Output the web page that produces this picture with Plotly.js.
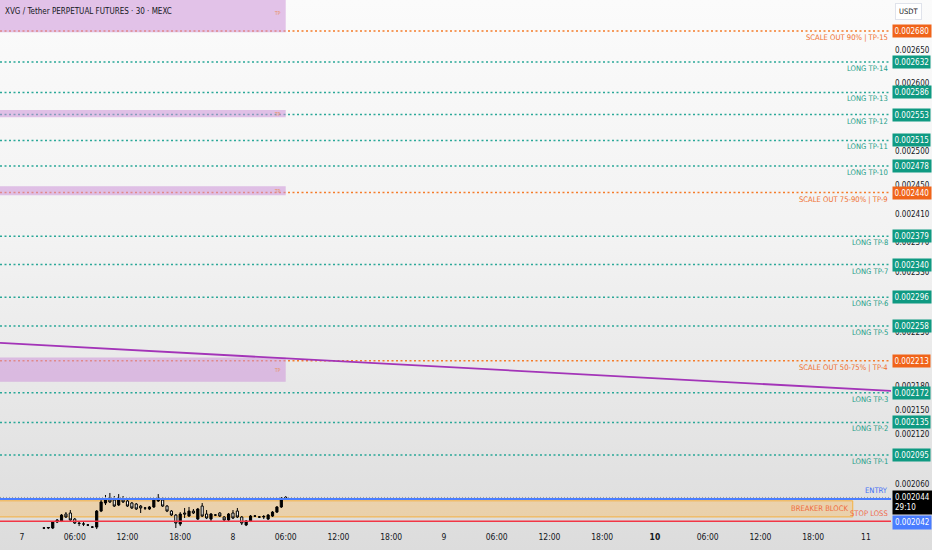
<!DOCTYPE html>
<html><head><meta charset="utf-8">
<script src="https://cdn.plot.ly/plotly-3.0.1.min.js"></script>
<style>
html,body{margin:0;padding:0;}
body{width:932px;height:550px;background:linear-gradient(#fbfbfb 0%,#f2f2f2 45%,#dcdcdc 100%);overflow:hidden;}
#chart{width:932px;height:550px;}
</style></head><body><div id="chart"></div>
<script>
const FONT = '"Liberation Sans Narrow","DejaVu Sans Condensed","Roboto Condensed",Arial,sans-serif';

// ---- candles (30 min) ----
const candleTime = ['2025-11-07 02:30','2025-11-07 03:00','2025-11-07 03:30','2025-11-07 04:00','2025-11-07 04:30','2025-11-07 05:00','2025-11-07 05:30','2025-11-07 06:00','2025-11-07 06:30','2025-11-07 07:00','2025-11-07 07:30','2025-11-07 08:00','2025-11-07 08:30','2025-11-07 09:00','2025-11-07 09:30','2025-11-07 10:00','2025-11-07 10:30','2025-11-07 11:00','2025-11-07 11:30','2025-11-07 12:00','2025-11-07 12:30','2025-11-07 13:00','2025-11-07 13:30','2025-11-07 14:00','2025-11-07 14:30','2025-11-07 15:00','2025-11-07 15:30','2025-11-07 16:00','2025-11-07 16:30','2025-11-07 17:00','2025-11-07 17:30','2025-11-07 18:00','2025-11-07 18:30','2025-11-07 19:00','2025-11-07 19:30','2025-11-07 20:00','2025-11-07 20:30','2025-11-07 21:00','2025-11-07 21:30','2025-11-07 22:00','2025-11-07 22:30','2025-11-07 23:00','2025-11-07 23:30','2025-11-08 00:00','2025-11-08 00:30','2025-11-08 01:00','2025-11-08 01:30','2025-11-08 02:00','2025-11-08 02:30','2025-11-08 03:00','2025-11-08 03:30','2025-11-08 04:00','2025-11-08 04:30','2025-11-08 05:00','2025-11-08 05:30','2025-11-08 06:00'];
const candleOpen = [0.0020080,0.0020080,0.0020080,0.0020150,0.0020162,0.0020244,0.0020256,0.0020185,0.0020138,0.0020127,0.0020115,0.0020091,0.0020091,0.0020279,0.0020374,0.0020421,0.0020409,0.0020350,0.0020421,0.0020398,0.0020374,0.0020362,0.0020338,0.0020315,0.0020303,0.0020327,0.0020398,0.0020409,0.0020338,0.0020279,0.0020232,0.0020127,0.0020256,0.0020220,0.0020279,0.0020185,0.0020338,0.0020244,0.0020185,0.0020232,0.0020256,0.0020209,0.0020174,0.0020256,0.0020279,0.0020209,0.0020115,0.0020162,0.0020220,0.0020209,0.0020209,0.0020185,0.0020220,0.0020267,0.0020327,0.0020421];
const candleHigh = [0.0020091,0.0020091,0.0020162,0.0020185,0.0020244,0.0020267,0.0020291,0.0020197,0.0020162,0.0020150,0.0020127,0.0020103,0.0020291,0.0020409,0.0020469,0.0020493,0.0020457,0.0020480,0.0020457,0.0020421,0.0020386,0.0020374,0.0020350,0.0020327,0.0020338,0.0020433,0.0020480,0.0020445,0.0020350,0.0020291,0.0020244,0.0020267,0.0020315,0.0020327,0.0020303,0.0020315,0.0020374,0.0020291,0.0020256,0.0020244,0.0020267,0.0020220,0.0020256,0.0020291,0.0020315,0.0020220,0.0020174,0.0020232,0.0020232,0.0020220,0.0020232,0.0020244,0.0020279,0.0020338,0.0020445,0.0020457];
const candleLow = [0.0020068,0.0020068,0.0020068,0.0020138,0.0020150,0.0020197,0.0020162,0.0020127,0.0020103,0.0020103,0.0020103,0.0020080,0.0020068,0.0020267,0.0020350,0.0020374,0.0020327,0.0020338,0.0020374,0.0020327,0.0020303,0.0020291,0.0020256,0.0020291,0.0020291,0.0020315,0.0020386,0.0020327,0.0020267,0.0020220,0.0020080,0.0020103,0.0020197,0.0020209,0.0020244,0.0020174,0.0020209,0.0020185,0.0020162,0.0020220,0.0020209,0.0020162,0.0020162,0.0020185,0.0020197,0.0020115,0.0020103,0.0020150,0.0020209,0.0020197,0.0020185,0.0020174,0.0020209,0.0020256,0.0020315,0.0020415];
const candleClose = [0.0020080,0.0020086,0.0020150,0.0020174,0.0020232,0.0020209,0.0020174,0.0020138,0.0020133,0.0020127,0.0020115,0.0020091,0.0020279,0.0020386,0.0020421,0.0020386,0.0020338,0.0020409,0.0020386,0.0020338,0.0020315,0.0020303,0.0020315,0.0020314,0.0020327,0.0020409,0.0020421,0.0020338,0.0020279,0.0020232,0.0020138,0.0020244,0.0020244,0.0020279,0.0020256,0.0020303,0.0020220,0.0020197,0.0020244,0.0020232,0.0020220,0.0020174,0.0020244,0.0020197,0.0020209,0.0020138,0.0020162,0.0020220,0.0020220,0.0020209,0.0020215,0.0020232,0.0020267,0.0020327,0.0020421,0.0020440];

// ---- target levels ----
const tpLevels = [0.002095,0.002135,0.002172,0.002213,0.002258,0.002296,0.002340,0.002379,0.002440,0.002478,0.002515,0.002553,0.002586,0.002632,0.002680];
const tpNames = ['LONG TP-1','LONG TP-2','LONG TP-3','SCALE OUT 50-75% | TP-4','LONG TP-5','LONG TP-6','LONG TP-7','LONG TP-8','SCALE OUT 75-90% | TP-9','LONG TP-10','LONG TP-11','LONG TP-12','LONG TP-13','LONG TP-14','SCALE OUT 90% | TP-15'];

// ---- TP zones (purple boxes) ----
const zoneLow  = [0.002186,0.002436,0.002549,0.002678];
const zoneHigh = [0.002217,0.002449,0.002560,0.002738];
const zoneStart = '2025-11-06 12:00';
const zoneEnd   = '2025-11-08 06:00';
const zoneLabel = 'TP';

// ---- trade levels ----
const entryPrice = 0.002042;
const currentPrice = 0.002044;
const countdown = '29:10';
const stopPrice = 0.002016;
const breakerLow = 0.002021;
const breakerHigh = 0.002040;
const breakerStart = '2025-11-06 12:00';
const breakerEnd = '2025-11-10 22:30';

// ---- trend line ----
const trendTime = ['2025-11-06 21:30','2025-11-11 02:51'];
const trendPrice = [0.0022359,0.0021744];

// ---- axis ticks ----
const xTickVals = ['2025-11-07 00:00','2025-11-07 06:00','2025-11-07 12:00','2025-11-07 18:00','2025-11-08 00:00','2025-11-08 06:00','2025-11-08 12:00','2025-11-08 18:00','2025-11-09 00:00','2025-11-09 06:00','2025-11-09 12:00','2025-11-09 18:00','2025-11-10 00:00','2025-11-10 06:00','2025-11-10 12:00','2025-11-10 18:00','2025-11-11 00:00'];
const xTickText = ['7','06:00','12:00','18:00','8','06:00','12:00','18:00','9','06:00','12:00','18:00','<b>10</b>','06:00','12:00','18:00','11'];
const yTickVals = [0.00206,0.00212,0.00215,0.00218,0.00225,0.00233,0.00237,0.00241,0.00245,0.0025,0.0026,0.00265];

const TEAL_LINE = '#2aa898', TEAL_TXT = '#1f9e88', TEAL_BG = '#0f9a82';
const ORG_LINE = '#f57c2a', ORG_TXT = '#f0702e', ORG_BG = '#f0641a';
const LBL = 7.6;   // line label font size
const AX = 8;      // axis label font size

const traces = [
  {type:'candlestick', x:candleTime, open:candleOpen, high:candleHigh, low:candleLow, close:candleClose,
   increasing:{line:{color:'#000000',width:1}, fillcolor:'#000000'},
   decreasing:{line:{color:'#000000',width:1}, fillcolor:'#ffffff'},
   whiskerwidth:0, hoverinfo:'skip', showlegend:false},
  {type:'scatter', mode:'lines', x:trendTime, y:trendPrice, line:{color:'#a334b8', width:1.8}, hoverinfo:'skip', showlegend:false}
];

const shapes = [];
const annotations = [];

zoneLow.forEach((lo,i)=>{
  shapes.push({type:'rect', xref:'x', yref:'y', x0:zoneStart, x1:zoneEnd, y0:lo, y1:zoneHigh[i],
    fillcolor:'rgba(206,147,216,0.55)', line:{width:0}, layer:'below'});
  annotations.push({xref:'x', yref:'y', x:zoneEnd, y:Math.log10(Math.sqrt(lo*zoneHigh[i])), xanchor:'right', yanchor:'middle', xshift:-3,
    text:zoneLabel, showarrow:false, font:{family:FONT,size:5,color:'#e8915a'}});
});

// breaker block
shapes.push({type:'rect', xref:'x', yref:'y', x0:breakerStart, x1:breakerEnd, y0:breakerLow, y1:breakerHigh,
  fillcolor:'rgba(255,183,77,0.35)', line:{color:'#f5b041', width:1}, layer:'below'});
annotations.push({xref:'x', yref:'y', x:breakerEnd, y:Math.log10(Math.sqrt(breakerLow*breakerHigh)), xanchor:'right', yanchor:'middle', xshift:-2,
  text:'BREAKER BLOCK', showarrow:false, font:{family:FONT,size:LBL,color:'#f06a3a'}});

tpLevels.forEach((v,i)=>{
  const scale = tpNames[i].startsWith('SCALE');
  shapes.push({type:'line', xref:'paper', x0:0, x1:1, yref:'y', y0:v, y1:v,
    line:{color: scale?ORG_LINE:TEAL_LINE, width:1.5, dash:'2px,2.5px'}, layer:'below'});
  annotations.push({xref:'paper', x:1, xanchor:'right', xshift:-1, yref:'y', y:Math.log10(v), yanchor:'top', yshift:0,
    text:tpNames[i], showarrow:false, font:{family:FONT,size:LBL,color: scale?ORG_TXT:TEAL_TXT}});
  annotations.push({xref:'paper', x:1, xanchor:'left', xshift:1, yref:'y', y:Math.log10(v), yanchor:'middle',
    text:v.toFixed(6), showarrow:false, bgcolor: scale?ORG_BG:TEAL_BG, borderpad:1.5,
    font:{family:FONT,size:AX,color:'#ffffff'}});
});

// entry / current / stop
shapes.push({type:'line', xref:'paper', x0:0, x1:1, yref:'y', y0:entryPrice, y1:entryPrice, line:{color:'#4a7dff', width:2}});
shapes.push({type:'line', xref:'paper', x0:0, x1:1, yref:'y', y0:currentPrice, y1:currentPrice, line:{color:'#9a9a9a', width:1, dash:'1px,2px'}});
shapes.push({type:'line', xref:'paper', x0:0, x1:1, yref:'y', y0:stopPrice, y1:stopPrice, line:{color:'#f23645', width:1.5}});
annotations.push({xref:'paper', x:1, xanchor:'right', xshift:-1, yref:'y', y:Math.log10(entryPrice), yanchor:'bottom', yshift:2,
  text:'ENTRY', showarrow:false, font:{family:FONT,size:LBL,color:'#3f6ef5'}});
annotations.push({xref:'paper', x:1, xanchor:'right', xshift:-1, yref:'y', y:Math.log10(stopPrice), yanchor:'bottom', yshift:1,
  text:'STOP LOSS', showarrow:false, font:{family:FONT,size:LBL,color:'#f06a4a'}});
annotations.push({xref:'paper', x:1, xanchor:'left', xshift:1, yref:'y', y:Math.log10(currentPrice), yanchor:'top', yshift:7,
  text:currentPrice.toFixed(6)+'<br>'+countdown, showarrow:false, bgcolor:'#000000', borderpad:2, align:'left',
  font:{family:FONT,size:AX,color:'#ffffff'}});
annotations.push({xref:'paper', x:1, xanchor:'left', xshift:1, yref:'y', y:Math.log10(entryPrice), yanchor:'middle', yshift:-23,
  text:entryPrice.toFixed(6), showarrow:false, bgcolor:'#4a7dff', borderpad:2,
  font:{family:FONT,size:AX,color:'#ffffff'}});

// header texts
annotations.push({xref:'paper', yref:'paper', x:0, y:1, xanchor:'left', yanchor:'top', xshift:3, yshift:-5,
  text:'XVG / Tether PERPETUAL FUTURES · 30 · MEXC', showarrow:false, font:{family:FONT,size:8,color:'#131722'}});
annotations.push({xref:'paper', yref:'paper', x:1, y:1, xanchor:'left', yanchor:'top', xshift:4, yshift:-3,
  text:'USDT', showarrow:false, bgcolor:'#ffffff', bordercolor:'#e0e3eb', borderwidth:1, borderpad:3,
  font:{family:FONT,size:7.5,color:'#131722'}});

const layout = {
  width:932, height:550,
  margin:{l:0, r:41, t:0, b:20},
  paper_bgcolor:'rgba(0,0,0,0)', plot_bgcolor:'rgba(0,0,0,0)',
  showlegend:false,
  xaxis:{type:'date', range:['2025-11-06 21:30','2025-11-11 02:51'], showgrid:false, zeroline:false, showline:false,
    tickmode:'array', tickvals:xTickVals, ticktext:xTickText, ticks:'',
    tickfont:{family:FONT, size:8.5, color:'#131722'}, rangeslider:{visible:false}, fixedrange:true},
  yaxis:{type:'log', side:'right', range:[Math.log10(0.0020057), Math.log10(0.0027287)], showgrid:false, zeroline:false, showline:false,
    tickmode:'array', tickvals:yTickVals, ticktext:yTickVals.map(v=>v.toFixed(6)), ticks:'', ticklabelstandoff:3,
    tickfont:{family:FONT, size:AX, color:'#131722'}, fixedrange:true},
  shapes:shapes,
  annotations:annotations
};

Plotly.newPlot('chart', traces, layout, {staticPlot:true, displayModeBar:false});
</script>
</body></html>
